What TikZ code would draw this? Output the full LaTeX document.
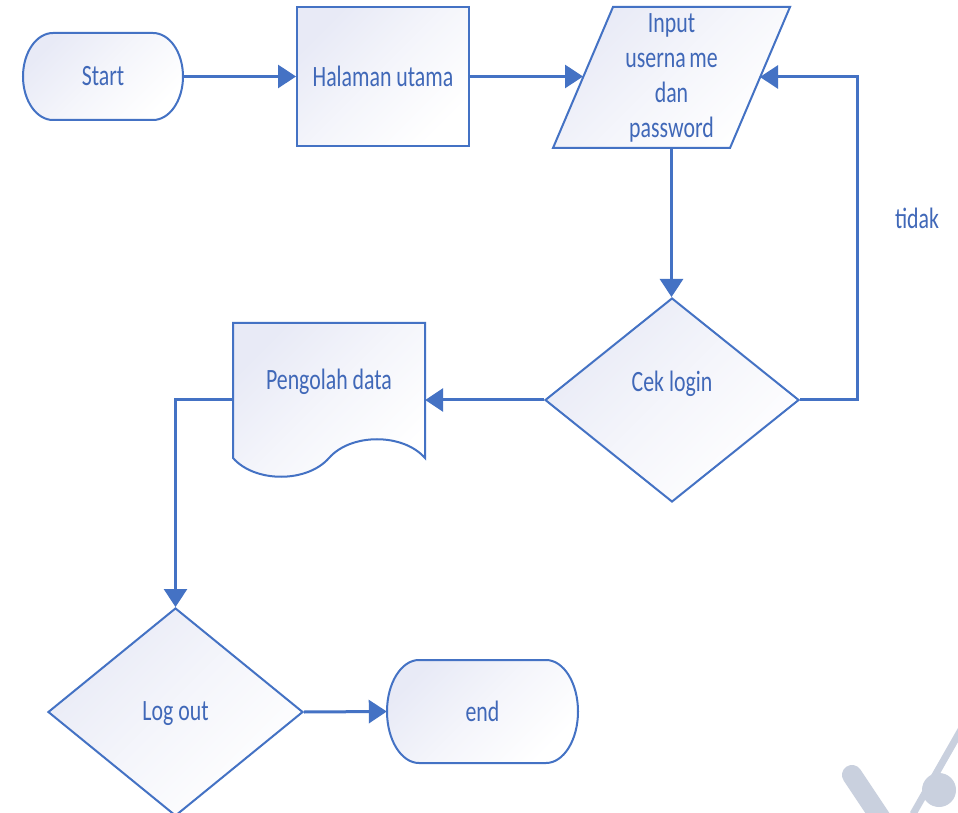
\documentclass[tikz,border=0pt]{standalone}
\usepackage{fontspec}
\newfontfamily\lblfont[FakeStretch=0.74]{Carlito}
\usetikzlibrary{arrows.meta,shapes.geometric}
\definecolor{lc}{HTML}{4472C4}
\definecolor{tc}{HTML}{4068B8}
\definecolor{fc}{HTML}{E8EAF6}
\definecolor{wm}{HTML}{C9D0DE}
\tikzset{
  ln/.style={draw=lc, line width=3pt, -{Triangle[length=18pt 0 0, width=23pt 0 0]}},
  shp/.style={draw=lc, line width=2pt, top color=fc, bottom color=white, middle color=fc!45!white, shading angle=45},
  txt/.style={text=tc, font={\lblfont\fontsize{29.5}{35}\selectfont}, align=center, inner sep=0pt},
  box/.style={rectangle, draw=none, inner sep=0pt},
}
\begin{document}
\begin{tikzpicture}[x=1pt,y=1pt]
\useasboundingbox[fill=white] (0,0) rectangle (958,812);

% watermark fragment
\draw[wm, line width=20pt, line cap=round] (852,37) -- (882,-8);
\draw[wm, line width=7pt] (913,-2) -- (962,84);
\fill[wm] (939,22) circle[radius=17];

% Start terminal
\path[shp] (53,779) -- (153,779) arc[start angle=90, end angle=-90, x radius=30pt, y radius=43.5pt]
  -- (53,692) arc[start angle=270, end angle=90, x radius=30pt, y radius=43.5pt] -- cycle;
\node[box, txt, minimum width=160pt, minimum height=87pt] (start) at (103,735.5) {Start};

% Halaman utama
\node[shp, rectangle, txt, minimum width=172pt, minimum height=139pt] (hal) at (383,735.5) {Halaman utama};

% Input parallelogram
\path[shp] (613,805) -- (790,805) -- (730,664) -- (553,664) -- cycle;
\node[box, txt, minimum width=120pt, minimum height=141pt] (inp) at (671.5,734.5) {Input\\userna\kern0.12em me\\dan\\password};
\coordinate (inL) at (583,735);
\coordinate (inR) at (760,735);

% Cek login diamond
\node[shp, diamond, inner sep=0pt, minimum width=254pt, minimum height=204pt,
  label={[txt, yshift=16pt]center:Cek login}] (cek) at (672,412) {};

% Pengolah data document
\path[shp] (233,489) -- (425,489) -- (425,354) .. controls (403,379) and (351,379) .. (329,354)
  .. controls (307,329) and (255,329) .. (233,354) -- cycle;
\node[box, minimum width=192pt, minimum height=135pt,
  label={[txt, yshift=9pt]center:Pengolah data}] (peng) at (329,421.5) {};

% Log out diamond
\node[shp, diamond, inner sep=0pt, minimum width=255pt, minimum height=208pt,
  label={[txt, yshift=-2pt]center:Log out}] (logout) at (175.5,100) {};

% end terminal
\path[shp] (419,152) -- (546,152) arc[start angle=90, end angle=-90, x radius=32pt, y radius=51.5pt]
  -- (419,49) arc[start angle=270, end angle=90, x radius=32pt, y radius=51.5pt] -- cycle;
\node[box, txt, minimum width=191pt, minimum height=103pt] (endt) at (482.5,100.5) {end};

% label tidak
\node[txt] (tidak) at (917,594) {tidak};

% connectors
\draw[ln] (start.east) -- (hal.west);
\draw[ln] (hal.east) -- (hal.east -| inL);
\draw[ln] (inp.south) -- (inp.south |- cek.north);
\draw[ln] (cek.east) -- ++(57,0) |- (inR);
\draw[ln] (cek.west) -- (cek.west -| peng.east);
\draw[ln] (peng.west |- cek.west) -| (logout.north);
\draw[ln] (logout.east) -- (endt.west);
\end{tikzpicture}
\end{document}
